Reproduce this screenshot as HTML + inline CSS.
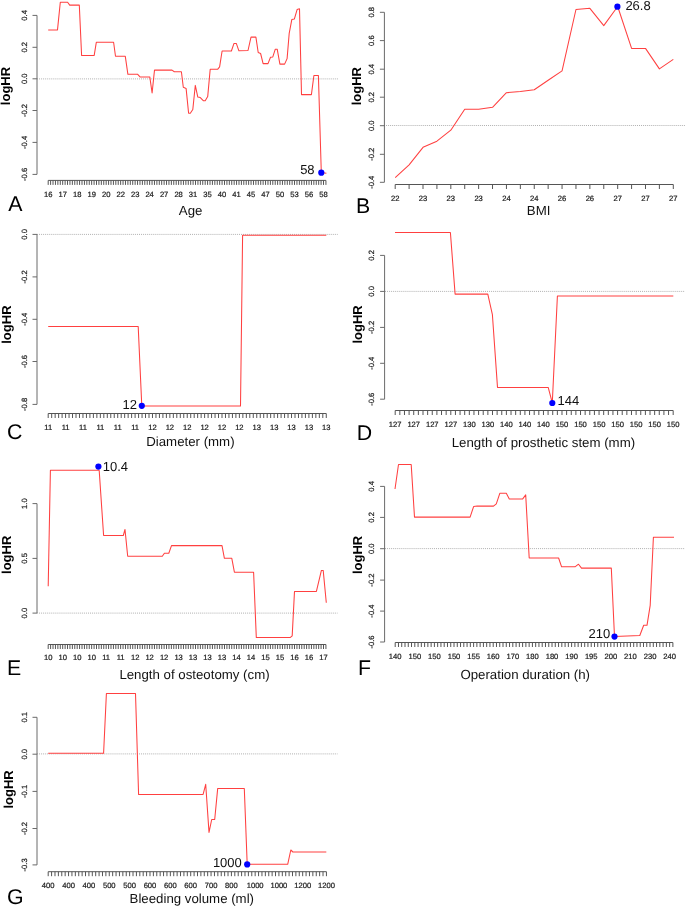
<!DOCTYPE html>
<html><head><meta charset="utf-8"><title>logHR plots</title><style>
html,body{margin:0;padding:0;background:#fff;}
body{width:685px;height:907px;overflow:hidden;}
svg{display:block;will-change:transform;}
text{font-family:"Liberation Sans",sans-serif;fill:#111;text-rendering:geometricPrecision;}
.tl{font-size:7.6px;fill:#222;stroke:#222;stroke-width:0.22;}
.tt{font-size:13.25px;fill:#111;}
.lg{font-size:13px;font-weight:bold;fill:#000;}
.lt{font-size:21.3px;fill:#000;}
.an{font-size:13px;fill:#111;}
.ax{stroke:#555;stroke-width:1;fill:none;}
.yax{stroke:#6a6a6a;stroke-width:1;fill:none;}
.zero{stroke:#b0b0b0;stroke-width:1;stroke-dasharray:1 1.04;}
.cv{stroke:#ff4040;stroke-width:1.05;fill:none;stroke-linejoin:round;}
</style></head>
<body><svg width="685" height="907" viewBox="0 0 685 907">
<rect width="685" height="907" fill="#fff"/>
<line x1="37" y1="78.9" x2="338" y2="78.9" class="zero"/>
<line x1="37" y1="15.4" x2="37" y2="174.4" class="yax"/>
<line x1="32.5" y1="15.4" x2="37" y2="15.4" class="yax"/>
<text class="tl" transform="translate(26.7,15.4) rotate(-90)" text-anchor="middle">0.4</text>
<line x1="32.5" y1="47.3" x2="37" y2="47.3" class="yax"/>
<text class="tl" transform="translate(26.7,47.3) rotate(-90)" text-anchor="middle">0.2</text>
<line x1="32.5" y1="78.8" x2="37" y2="78.8" class="yax"/>
<text class="tl" transform="translate(26.7,78.8) rotate(-90)" text-anchor="middle">0.0</text>
<line x1="32.5" y1="110.5" x2="37" y2="110.5" class="yax"/>
<text class="tl" transform="translate(26.7,110.5) rotate(-90)" text-anchor="middle">-0.2</text>
<line x1="32.5" y1="142.4" x2="37" y2="142.4" class="yax"/>
<text class="tl" transform="translate(26.7,142.4) rotate(-90)" text-anchor="middle">-0.4</text>
<line x1="32.5" y1="174.4" x2="37" y2="174.4" class="yax"/>
<text class="tl" transform="translate(26.7,174.4) rotate(-90)" text-anchor="middle">-0.6</text>
<path d="M48.2 180.4H325.93M48.2 180.4v4.5M50.62 180.4v4.5M53.03 180.4v4.5M55.45 180.4v4.5M57.86 180.4v4.5M60.28 180.4v4.5M62.69 180.4v4.5M65.11 180.4v4.5M67.52 180.4v4.5M69.94 180.4v4.5M72.35 180.4v4.5M74.77 180.4v4.5M77.18 180.4v4.5M79.59 180.4v4.5M82.01 180.4v4.5M84.43 180.4v4.5M86.84 180.4v4.5M89.25 180.4v4.5M91.67 180.4v4.5M94.09 180.4v4.5M96.5 180.4v4.5M98.92 180.4v4.5M101.33 180.4v4.5M103.75 180.4v4.5M106.16 180.4v4.5M108.58 180.4v4.5M110.99 180.4v4.5M113.41 180.4v4.5M115.82 180.4v4.5M118.23 180.4v4.5M120.65 180.4v4.5M123.06 180.4v4.5M125.48 180.4v4.5M127.9 180.4v4.5M130.31 180.4v4.5M132.73 180.4v4.5M135.14 180.4v4.5M137.56 180.4v4.5M139.97 180.4v4.5M142.38 180.4v4.5M144.8 180.4v4.5M147.22 180.4v4.5M149.63 180.4v4.5M152.05 180.4v4.5M154.46 180.4v4.5M156.88 180.4v4.5M159.29 180.4v4.5M161.7 180.4v4.5M164.12 180.4v4.5M166.54 180.4v4.5M168.95 180.4v4.5M171.37 180.4v4.5M173.78 180.4v4.5M176.19 180.4v4.5M178.61 180.4v4.5M181.02 180.4v4.5M183.44 180.4v4.5M185.86 180.4v4.5M188.27 180.4v4.5M190.69 180.4v4.5M193.1 180.4v4.5M195.51 180.4v4.5M197.93 180.4v4.5M200.35 180.4v4.5M202.76 180.4v4.5M205.18 180.4v4.5M207.59 180.4v4.5M210 180.4v4.5M212.42 180.4v4.5M214.83 180.4v4.5M217.25 180.4v4.5M219.67 180.4v4.5M222.08 180.4v4.5M224.5 180.4v4.5M226.91 180.4v4.5M229.32 180.4v4.5M231.74 180.4v4.5M234.16 180.4v4.5M236.57 180.4v4.5M238.99 180.4v4.5M241.4 180.4v4.5M243.81 180.4v4.5M246.23 180.4v4.5M248.64 180.4v4.5M251.06 180.4v4.5M253.48 180.4v4.5M255.89 180.4v4.5M258.31 180.4v4.5M260.72 180.4v4.5M263.13 180.4v4.5M265.55 180.4v4.5M267.97 180.4v4.5M270.38 180.4v4.5M272.8 180.4v4.5M275.21 180.4v4.5M277.62 180.4v4.5M280.04 180.4v4.5M282.45 180.4v4.5M284.87 180.4v4.5M287.29 180.4v4.5M289.7 180.4v4.5M292.12 180.4v4.5M294.53 180.4v4.5M296.94 180.4v4.5M299.36 180.4v4.5M301.78 180.4v4.5M304.19 180.4v4.5M306.61 180.4v4.5M309.02 180.4v4.5M311.44 180.4v4.5M313.85 180.4v4.5M316.26 180.4v4.5M318.68 180.4v4.5M321.09 180.4v4.5M323.51 180.4v4.5M325.93 180.4v4.5" class="ax"/>
<text class="tl" x="48.2" y="196.5" text-anchor="middle">16</text>
<text class="tl" x="62.69" y="196.5" text-anchor="middle">17</text>
<text class="tl" x="77.18" y="196.5" text-anchor="middle">18</text>
<text class="tl" x="91.67" y="196.5" text-anchor="middle">19</text>
<text class="tl" x="106.16" y="196.5" text-anchor="middle">20</text>
<text class="tl" x="120.65" y="196.5" text-anchor="middle">22</text>
<text class="tl" x="135.14" y="196.5" text-anchor="middle">23</text>
<text class="tl" x="149.63" y="196.5" text-anchor="middle">24</text>
<text class="tl" x="164.12" y="196.5" text-anchor="middle">27</text>
<text class="tl" x="178.61" y="196.5" text-anchor="middle">28</text>
<text class="tl" x="193.1" y="196.5" text-anchor="middle">31</text>
<text class="tl" x="207.59" y="196.5" text-anchor="middle">35</text>
<text class="tl" x="222.08" y="196.5" text-anchor="middle">40</text>
<text class="tl" x="236.57" y="196.5" text-anchor="middle">41</text>
<text class="tl" x="251.06" y="196.5" text-anchor="middle">45</text>
<text class="tl" x="265.55" y="196.5" text-anchor="middle">47</text>
<text class="tl" x="280.04" y="196.5" text-anchor="middle">50</text>
<text class="tl" x="294.53" y="196.5" text-anchor="middle">53</text>
<text class="tl" x="309.02" y="196.5" text-anchor="middle">56</text>
<text class="tl" x="323.51" y="196.5" text-anchor="middle">58</text>
<polyline points="48.2,29.9 57.5,29.9 60.3,2.3 67.6,2.3 69.7,5.1 79.3,5.1 81.6,55.4 94.2,55.4 96.3,42.3 113.6,42.3 115.5,56.3 125.3,56.3 127.9,74.3 137.7,74.3 140,76.9 149.8,76.9 152.1,93 154.5,70.1 172,70.1 174.3,71.7 181.4,71.7 183.3,87.3 186.1,88.4 188.6,113.2 190.3,113.2 192.8,109.5 195.3,85.4 197.8,97.1 200.3,97.6 203.5,100.8 205.2,100.8 207.7,96.6 210.2,69.3 217.6,69.3 219.6,66.8 222.1,51 231.4,51 234,43.4 236.3,43.4 238.9,50.8 248,50.5 251,37.1 255.9,37.1 258.2,52.5 260.6,53.5 263.1,63.6 268,63.6 270.5,57.2 272.8,56.9 275.3,49.2 277.2,49.2 279.9,64.1 284.6,64.1 287.1,58.6 289.2,33.3 291.8,19.6 294.4,18.9 297.1,9.6 299.5,8.8 301.5,94.6 311.4,94.6 313.9,75.5 318.4,75.5 321.3,172.4 326.4,173.2" class="cv"/>
<circle cx="321.3" cy="172.7" r="3.1" fill="#0000ff"/>
<text class="an" x="314.6" y="174.3" text-anchor="end">58</text>
<text class="lg" transform="translate(9.9,86) rotate(-90)" text-anchor="middle">logHR</text>
<text class="tt" x="190.6" y="214.6" text-anchor="middle">Age</text>
<text class="lt" x="8.2" y="211.3">A</text>
<line x1="384" y1="125.5" x2="685" y2="125.5" class="zero"/>
<line x1="384.4" y1="12.3" x2="384.4" y2="182.3" class="yax"/>
<line x1="379.9" y1="12.3" x2="384.4" y2="12.3" class="yax"/>
<text class="tl" transform="translate(374.1,12.3) rotate(-90)" text-anchor="middle">0.8</text>
<line x1="379.9" y1="40.6" x2="384.4" y2="40.6" class="yax"/>
<text class="tl" transform="translate(374.1,40.6) rotate(-90)" text-anchor="middle">0.6</text>
<line x1="379.9" y1="69.2" x2="384.4" y2="69.2" class="yax"/>
<text class="tl" transform="translate(374.1,69.2) rotate(-90)" text-anchor="middle">0.4</text>
<line x1="379.9" y1="97.2" x2="384.4" y2="97.2" class="yax"/>
<text class="tl" transform="translate(374.1,97.2) rotate(-90)" text-anchor="middle">0.2</text>
<line x1="379.9" y1="125.7" x2="384.4" y2="125.7" class="yax"/>
<text class="tl" transform="translate(374.1,125.7) rotate(-90)" text-anchor="middle">0.0</text>
<line x1="379.9" y1="154.3" x2="384.4" y2="154.3" class="yax"/>
<text class="tl" transform="translate(374.1,154.3) rotate(-90)" text-anchor="middle">-0.2</text>
<line x1="379.9" y1="182.3" x2="384.4" y2="182.3" class="yax"/>
<text class="tl" transform="translate(374.1,182.3) rotate(-90)" text-anchor="middle">-0.4</text>
<path d="M395.2 184.5H673.3M395.2 184.5v4.5M409.1 184.5v4.5M423.01 184.5v4.5M436.91 184.5v4.5M450.82 184.5v4.5M464.72 184.5v4.5M478.63 184.5v4.5M492.53 184.5v4.5M506.44 184.5v4.5M520.35 184.5v4.5M534.25 184.5v4.5M548.15 184.5v4.5M562.06 184.5v4.5M575.96 184.5v4.5M589.87 184.5v4.5M603.77 184.5v4.5M617.68 184.5v4.5M631.59 184.5v4.5M645.49 184.5v4.5M659.39 184.5v4.5M673.3 184.5v4.5" class="ax"/>
<text class="tl" x="395.2" y="200.8" text-anchor="middle">22</text>
<text class="tl" x="423.01" y="200.8" text-anchor="middle">23</text>
<text class="tl" x="450.82" y="200.8" text-anchor="middle">23</text>
<text class="tl" x="478.63" y="200.8" text-anchor="middle">23</text>
<text class="tl" x="506.44" y="200.8" text-anchor="middle">24</text>
<text class="tl" x="534.25" y="200.8" text-anchor="middle">24</text>
<text class="tl" x="562.06" y="200.8" text-anchor="middle">26</text>
<text class="tl" x="589.87" y="200.8" text-anchor="middle">26</text>
<text class="tl" x="617.68" y="200.8" text-anchor="middle">27</text>
<text class="tl" x="645.49" y="200.8" text-anchor="middle">27</text>
<text class="tl" x="673.3" y="200.8" text-anchor="middle">27</text>
<polyline points="395.2,177.6 409.1,164.8 423.01,147.3 436.91,141.2 450.82,130.2 464.72,109.3 478.63,109.3 492.53,107.3 506.44,92.7 520.35,91.5 534.25,89.7 548.15,80.2 562.06,70.9 575.96,9.5 589.87,8.3 603.77,25.6 617.68,6.5 631.59,48.4 645.49,48.4 659.39,68.9 673.3,59.4" class="cv"/>
<circle cx="617.4" cy="6.7" r="3.1" fill="#0000ff"/>
<text class="an" x="625.4" y="10.2" text-anchor="start">26.8</text>
<text class="lg" transform="translate(360.5,86.2) rotate(-90)" text-anchor="middle">logHR</text>
<text class="tt" x="538.6" y="214.8" text-anchor="middle">BMI</text>
<text class="lt" x="355.9" y="212.8">B</text>
<line x1="37" y1="234.4" x2="337.7" y2="234.4" class="zero"/>
<line x1="37" y1="234.4" x2="37" y2="404.4" class="yax"/>
<line x1="32.5" y1="234.4" x2="37" y2="234.4" class="yax"/>
<text class="tl" transform="translate(26.7,234.4) rotate(-90)" text-anchor="middle">0.0</text>
<line x1="32.5" y1="276.9" x2="37" y2="276.9" class="yax"/>
<text class="tl" transform="translate(26.7,276.9) rotate(-90)" text-anchor="middle">-0.2</text>
<line x1="32.5" y1="319.3" x2="37" y2="319.3" class="yax"/>
<text class="tl" transform="translate(26.7,319.3) rotate(-90)" text-anchor="middle">-0.4</text>
<line x1="32.5" y1="361.5" x2="37" y2="361.5" class="yax"/>
<text class="tl" transform="translate(26.7,361.5) rotate(-90)" text-anchor="middle">-0.6</text>
<line x1="32.5" y1="404.4" x2="37" y2="404.4" class="yax"/>
<text class="tl" transform="translate(26.7,404.4) rotate(-90)" text-anchor="middle">-0.8</text>
<path d="M48.2 413.5H326.28M48.2 413.5v4.5M51.68 413.5v4.5M55.15 413.5v4.5M58.63 413.5v4.5M62.1 413.5v4.5M65.58 413.5v4.5M69.06 413.5v4.5M72.53 413.5v4.5M76.01 413.5v4.5M79.48 413.5v4.5M82.96 413.5v4.5M86.44 413.5v4.5M89.91 413.5v4.5M93.39 413.5v4.5M96.86 413.5v4.5M100.34 413.5v4.5M103.82 413.5v4.5M107.29 413.5v4.5M110.77 413.5v4.5M114.24 413.5v4.5M117.72 413.5v4.5M121.2 413.5v4.5M124.67 413.5v4.5M128.15 413.5v4.5M131.62 413.5v4.5M135.1 413.5v4.5M138.58 413.5v4.5M142.05 413.5v4.5M145.53 413.5v4.5M149 413.5v4.5M152.48 413.5v4.5M155.96 413.5v4.5M159.43 413.5v4.5M162.91 413.5v4.5M166.38 413.5v4.5M169.86 413.5v4.5M173.34 413.5v4.5M176.81 413.5v4.5M180.29 413.5v4.5M183.76 413.5v4.5M187.24 413.5v4.5M190.72 413.5v4.5M194.19 413.5v4.5M197.67 413.5v4.5M201.14 413.5v4.5M204.62 413.5v4.5M208.1 413.5v4.5M211.57 413.5v4.5M215.05 413.5v4.5M218.52 413.5v4.5M222 413.5v4.5M225.48 413.5v4.5M228.95 413.5v4.5M232.43 413.5v4.5M235.9 413.5v4.5M239.38 413.5v4.5M242.86 413.5v4.5M246.33 413.5v4.5M249.81 413.5v4.5M253.28 413.5v4.5M256.76 413.5v4.5M260.24 413.5v4.5M263.71 413.5v4.5M267.19 413.5v4.5M270.66 413.5v4.5M274.14 413.5v4.5M277.62 413.5v4.5M281.09 413.5v4.5M284.57 413.5v4.5M288.04 413.5v4.5M291.52 413.5v4.5M295 413.5v4.5M298.47 413.5v4.5M301.95 413.5v4.5M305.42 413.5v4.5M308.9 413.5v4.5M312.38 413.5v4.5M315.85 413.5v4.5M319.33 413.5v4.5M322.8 413.5v4.5M326.28 413.5v4.5" class="ax"/>
<text class="tl" x="48.2" y="430.1" text-anchor="middle">11</text>
<text class="tl" x="65.58" y="430.1" text-anchor="middle">11</text>
<text class="tl" x="82.96" y="430.1" text-anchor="middle">11</text>
<text class="tl" x="100.34" y="430.1" text-anchor="middle">11</text>
<text class="tl" x="117.72" y="430.1" text-anchor="middle">11</text>
<text class="tl" x="135.1" y="430.1" text-anchor="middle">11</text>
<text class="tl" x="152.48" y="430.1" text-anchor="middle">12</text>
<text class="tl" x="169.86" y="430.1" text-anchor="middle">12</text>
<text class="tl" x="187.24" y="430.1" text-anchor="middle">12</text>
<text class="tl" x="204.62" y="430.1" text-anchor="middle">12</text>
<text class="tl" x="222" y="430.1" text-anchor="middle">12</text>
<text class="tl" x="239.38" y="430.1" text-anchor="middle">12</text>
<text class="tl" x="256.76" y="430.1" text-anchor="middle">13</text>
<text class="tl" x="274.14" y="430.1" text-anchor="middle">13</text>
<text class="tl" x="291.52" y="430.1" text-anchor="middle">13</text>
<text class="tl" x="308.9" y="430.1" text-anchor="middle">13</text>
<text class="tl" x="326.28" y="430.1" text-anchor="middle">13</text>
<polyline points="48.2,326.5 138.2,326.5 141.8,405.9 240.5,405.9 242.6,235.2 326.3,235.2" class="cv"/>
<circle cx="141.8" cy="405.8" r="3.1" fill="#0000ff"/>
<text class="an" x="136.9" y="408.6" text-anchor="end">12</text>
<text class="lg" transform="translate(11.2,324.6) rotate(-90)" text-anchor="middle">logHR</text>
<text class="tt" x="190.4" y="445.9" text-anchor="middle">Diameter (mm)</text>
<text class="lt" x="7" y="439">C</text>
<line x1="385" y1="291.4" x2="685" y2="291.4" class="zero"/>
<line x1="384.6" y1="255.4" x2="384.6" y2="399.2" class="yax"/>
<line x1="380.1" y1="255.4" x2="384.6" y2="255.4" class="yax"/>
<text class="tl" transform="translate(374.3,255.4) rotate(-90)" text-anchor="middle">0.2</text>
<line x1="380.1" y1="291.4" x2="384.6" y2="291.4" class="yax"/>
<text class="tl" transform="translate(374.3,291.4) rotate(-90)" text-anchor="middle">0.0</text>
<line x1="380.1" y1="327.4" x2="384.6" y2="327.4" class="yax"/>
<text class="tl" transform="translate(374.3,327.4) rotate(-90)" text-anchor="middle">-0.2</text>
<line x1="380.1" y1="363.3" x2="384.6" y2="363.3" class="yax"/>
<text class="tl" transform="translate(374.3,363.3) rotate(-90)" text-anchor="middle">-0.4</text>
<line x1="380.1" y1="399.2" x2="384.6" y2="399.2" class="yax"/>
<text class="tl" transform="translate(374.3,399.2) rotate(-90)" text-anchor="middle">-0.6</text>
<path d="M395.2 410.5H673.18M395.2 410.5v4.5M399.83 410.5v4.5M404.47 410.5v4.5M409.1 410.5v4.5M413.73 410.5v4.5M418.37 410.5v4.5M423 410.5v4.5M427.63 410.5v4.5M432.26 410.5v4.5M436.9 410.5v4.5M441.53 410.5v4.5M446.16 410.5v4.5M450.8 410.5v4.5M455.43 410.5v4.5M460.06 410.5v4.5M464.69 410.5v4.5M469.33 410.5v4.5M473.96 410.5v4.5M478.59 410.5v4.5M483.23 410.5v4.5M487.86 410.5v4.5M492.49 410.5v4.5M497.13 410.5v4.5M501.76 410.5v4.5M506.39 410.5v4.5M511.02 410.5v4.5M515.66 410.5v4.5M520.29 410.5v4.5M524.92 410.5v4.5M529.56 410.5v4.5M534.19 410.5v4.5M538.82 410.5v4.5M543.46 410.5v4.5M548.09 410.5v4.5M552.72 410.5v4.5M557.36 410.5v4.5M561.99 410.5v4.5M566.62 410.5v4.5M571.25 410.5v4.5M575.89 410.5v4.5M580.52 410.5v4.5M585.15 410.5v4.5M589.79 410.5v4.5M594.42 410.5v4.5M599.05 410.5v4.5M603.68 410.5v4.5M608.32 410.5v4.5M612.95 410.5v4.5M617.58 410.5v4.5M622.22 410.5v4.5M626.85 410.5v4.5M631.48 410.5v4.5M636.12 410.5v4.5M640.75 410.5v4.5M645.38 410.5v4.5M650.01 410.5v4.5M654.65 410.5v4.5M659.28 410.5v4.5M663.91 410.5v4.5M668.55 410.5v4.5M673.18 410.5v4.5" class="ax"/>
<text class="tl" x="395.2" y="426.6" text-anchor="middle">127</text>
<text class="tl" x="413.73" y="426.6" text-anchor="middle">127</text>
<text class="tl" x="432.26" y="426.6" text-anchor="middle">127</text>
<text class="tl" x="450.8" y="426.6" text-anchor="middle">127</text>
<text class="tl" x="469.33" y="426.6" text-anchor="middle">130</text>
<text class="tl" x="487.86" y="426.6" text-anchor="middle">130</text>
<text class="tl" x="506.39" y="426.6" text-anchor="middle">140</text>
<text class="tl" x="524.92" y="426.6" text-anchor="middle">140</text>
<text class="tl" x="543.46" y="426.6" text-anchor="middle">140</text>
<text class="tl" x="561.99" y="426.6" text-anchor="middle">150</text>
<text class="tl" x="580.52" y="426.6" text-anchor="middle">150</text>
<text class="tl" x="599.05" y="426.6" text-anchor="middle">150</text>
<text class="tl" x="617.58" y="426.6" text-anchor="middle">150</text>
<text class="tl" x="636.12" y="426.6" text-anchor="middle">150</text>
<text class="tl" x="654.65" y="426.6" text-anchor="middle">150</text>
<text class="tl" x="673.18" y="426.6" text-anchor="middle">150</text>
<polyline points="395,232.5 450.4,232.5 455.1,294.1 487.8,294.1 492.4,314.7 497.5,387.4 548.2,387.4 552.3,402.8 557.4,296 673.3,296" class="cv"/>
<circle cx="552.3" cy="403" r="3.1" fill="#0000ff"/>
<text class="an" x="557.6" y="404.5" text-anchor="start">144</text>
<text class="lg" transform="translate(361.9,324.4) rotate(-90)" text-anchor="middle">logHR</text>
<text class="tt" x="543.4" y="446.5" text-anchor="middle">Length of prosthetic stem (mm)</text>
<text class="lt" x="356.8" y="439.6">D</text>
<line x1="37" y1="613.1" x2="337.5" y2="613.1" class="zero"/>
<line x1="37" y1="503.6" x2="37" y2="613.1" class="yax"/>
<line x1="32.5" y1="503.6" x2="37" y2="503.6" class="yax"/>
<text class="tl" transform="translate(26.7,503.6) rotate(-90)" text-anchor="middle">1.0</text>
<line x1="32.5" y1="558.4" x2="37" y2="558.4" class="yax"/>
<text class="tl" transform="translate(26.7,558.4) rotate(-90)" text-anchor="middle">0.5</text>
<line x1="32.5" y1="613.1" x2="37" y2="613.1" class="yax"/>
<text class="tl" transform="translate(26.7,613.1) rotate(-90)" text-anchor="middle">0.0</text>
<path d="M48.2 644.5H325.93M48.2 644.5v4.5M50.62 644.5v4.5M53.03 644.5v4.5M55.45 644.5v4.5M57.86 644.5v4.5M60.28 644.5v4.5M62.69 644.5v4.5M65.11 644.5v4.5M67.52 644.5v4.5M69.94 644.5v4.5M72.35 644.5v4.5M74.77 644.5v4.5M77.18 644.5v4.5M79.59 644.5v4.5M82.01 644.5v4.5M84.43 644.5v4.5M86.84 644.5v4.5M89.25 644.5v4.5M91.67 644.5v4.5M94.09 644.5v4.5M96.5 644.5v4.5M98.92 644.5v4.5M101.33 644.5v4.5M103.75 644.5v4.5M106.16 644.5v4.5M108.58 644.5v4.5M110.99 644.5v4.5M113.41 644.5v4.5M115.82 644.5v4.5M118.23 644.5v4.5M120.65 644.5v4.5M123.06 644.5v4.5M125.48 644.5v4.5M127.9 644.5v4.5M130.31 644.5v4.5M132.73 644.5v4.5M135.14 644.5v4.5M137.56 644.5v4.5M139.97 644.5v4.5M142.38 644.5v4.5M144.8 644.5v4.5M147.22 644.5v4.5M149.63 644.5v4.5M152.05 644.5v4.5M154.46 644.5v4.5M156.88 644.5v4.5M159.29 644.5v4.5M161.7 644.5v4.5M164.12 644.5v4.5M166.54 644.5v4.5M168.95 644.5v4.5M171.37 644.5v4.5M173.78 644.5v4.5M176.19 644.5v4.5M178.61 644.5v4.5M181.02 644.5v4.5M183.44 644.5v4.5M185.86 644.5v4.5M188.27 644.5v4.5M190.69 644.5v4.5M193.1 644.5v4.5M195.51 644.5v4.5M197.93 644.5v4.5M200.35 644.5v4.5M202.76 644.5v4.5M205.18 644.5v4.5M207.59 644.5v4.5M210 644.5v4.5M212.42 644.5v4.5M214.83 644.5v4.5M217.25 644.5v4.5M219.67 644.5v4.5M222.08 644.5v4.5M224.5 644.5v4.5M226.91 644.5v4.5M229.32 644.5v4.5M231.74 644.5v4.5M234.16 644.5v4.5M236.57 644.5v4.5M238.99 644.5v4.5M241.4 644.5v4.5M243.81 644.5v4.5M246.23 644.5v4.5M248.64 644.5v4.5M251.06 644.5v4.5M253.48 644.5v4.5M255.89 644.5v4.5M258.31 644.5v4.5M260.72 644.5v4.5M263.13 644.5v4.5M265.55 644.5v4.5M267.97 644.5v4.5M270.38 644.5v4.5M272.8 644.5v4.5M275.21 644.5v4.5M277.62 644.5v4.5M280.04 644.5v4.5M282.45 644.5v4.5M284.87 644.5v4.5M287.29 644.5v4.5M289.7 644.5v4.5M292.12 644.5v4.5M294.53 644.5v4.5M296.94 644.5v4.5M299.36 644.5v4.5M301.78 644.5v4.5M304.19 644.5v4.5M306.61 644.5v4.5M309.02 644.5v4.5M311.44 644.5v4.5M313.85 644.5v4.5M316.26 644.5v4.5M318.68 644.5v4.5M321.09 644.5v4.5M323.51 644.5v4.5M325.93 644.5v4.5" class="ax"/>
<text class="tl" x="48.2" y="660.3" text-anchor="middle">10</text>
<text class="tl" x="62.69" y="660.3" text-anchor="middle">10</text>
<text class="tl" x="77.18" y="660.3" text-anchor="middle">10</text>
<text class="tl" x="91.67" y="660.3" text-anchor="middle">10</text>
<text class="tl" x="106.16" y="660.3" text-anchor="middle">11</text>
<text class="tl" x="120.65" y="660.3" text-anchor="middle">11</text>
<text class="tl" x="135.14" y="660.3" text-anchor="middle">12</text>
<text class="tl" x="149.63" y="660.3" text-anchor="middle">12</text>
<text class="tl" x="164.12" y="660.3" text-anchor="middle">12</text>
<text class="tl" x="178.61" y="660.3" text-anchor="middle">13</text>
<text class="tl" x="193.1" y="660.3" text-anchor="middle">13</text>
<text class="tl" x="207.59" y="660.3" text-anchor="middle">13</text>
<text class="tl" x="222.08" y="660.3" text-anchor="middle">13</text>
<text class="tl" x="236.57" y="660.3" text-anchor="middle">14</text>
<text class="tl" x="251.06" y="660.3" text-anchor="middle">14</text>
<text class="tl" x="265.55" y="660.3" text-anchor="middle">15</text>
<text class="tl" x="280.04" y="660.3" text-anchor="middle">15</text>
<text class="tl" x="294.53" y="660.3" text-anchor="middle">16</text>
<text class="tl" x="309.02" y="660.3" text-anchor="middle">16</text>
<text class="tl" x="323.51" y="660.3" text-anchor="middle">17</text>
<polyline points="48.2,586.3 50.4,470.3 98.3,470.3 99.2,470.5 103.6,535.5 123.3,535.5 125,529.5 127.7,556.3 162.3,556.3 164.4,553.2 168.8,553.2 171.5,545.6 222,545.6 224.4,558.3 231.8,558.3 234.4,572.2 253.6,572.2 256.3,637.4 290.4,637.4 292.2,635.9 294.5,591.4 316.4,591.4 321.4,570.4 323.2,570.4 326.3,602.7" class="cv"/>
<circle cx="98.4" cy="466.6" r="3.1" fill="#0000ff"/>
<text class="an" x="102.8" y="471.3" text-anchor="start">10.4</text>
<text class="lg" transform="translate(10.8,554.8) rotate(-90)" text-anchor="middle">logHR</text>
<text class="tt" x="194.5" y="678.5" text-anchor="middle">Length of osteotomy (cm)</text>
<text class="lt" x="7" y="674.5">E</text>
<line x1="385" y1="548.6" x2="685" y2="548.6" class="zero"/>
<line x1="384.6" y1="486.4" x2="384.6" y2="642" class="yax"/>
<line x1="380.1" y1="486.4" x2="384.6" y2="486.4" class="yax"/>
<text class="tl" transform="translate(374.3,486.4) rotate(-90)" text-anchor="middle">0.4</text>
<line x1="380.1" y1="517.4" x2="384.6" y2="517.4" class="yax"/>
<text class="tl" transform="translate(374.3,517.4) rotate(-90)" text-anchor="middle">0.2</text>
<line x1="380.1" y1="548.7" x2="384.6" y2="548.7" class="yax"/>
<text class="tl" transform="translate(374.3,548.7) rotate(-90)" text-anchor="middle">0.0</text>
<line x1="380.1" y1="580.1" x2="384.6" y2="580.1" class="yax"/>
<text class="tl" transform="translate(374.3,580.1) rotate(-90)" text-anchor="middle">-0.2</text>
<line x1="380.1" y1="611.1" x2="384.6" y2="611.1" class="yax"/>
<text class="tl" transform="translate(374.3,611.1) rotate(-90)" text-anchor="middle">-0.4</text>
<line x1="380.1" y1="642" x2="384.6" y2="642" class="yax"/>
<text class="tl" transform="translate(374.3,642) rotate(-90)" text-anchor="middle">-0.6</text>
<path d="M395.2 642.5H672.89M395.2 642.5v4.5M398.47 642.5v4.5M401.73 642.5v4.5M405 642.5v4.5M408.27 642.5v4.5M411.53 642.5v4.5M414.8 642.5v4.5M418.07 642.5v4.5M421.34 642.5v4.5M424.6 642.5v4.5M427.87 642.5v4.5M431.14 642.5v4.5M434.4 642.5v4.5M437.67 642.5v4.5M440.94 642.5v4.5M444.2 642.5v4.5M447.47 642.5v4.5M450.74 642.5v4.5M454.01 642.5v4.5M457.27 642.5v4.5M460.54 642.5v4.5M463.81 642.5v4.5M467.07 642.5v4.5M470.34 642.5v4.5M473.61 642.5v4.5M476.88 642.5v4.5M480.14 642.5v4.5M483.41 642.5v4.5M486.68 642.5v4.5M489.94 642.5v4.5M493.21 642.5v4.5M496.48 642.5v4.5M499.74 642.5v4.5M503.01 642.5v4.5M506.28 642.5v4.5M509.54 642.5v4.5M512.81 642.5v4.5M516.08 642.5v4.5M519.35 642.5v4.5M522.61 642.5v4.5M525.88 642.5v4.5M529.15 642.5v4.5M532.41 642.5v4.5M535.68 642.5v4.5M538.95 642.5v4.5M542.21 642.5v4.5M545.48 642.5v4.5M548.75 642.5v4.5M552.02 642.5v4.5M555.28 642.5v4.5M558.55 642.5v4.5M561.82 642.5v4.5M565.08 642.5v4.5M568.35 642.5v4.5M571.62 642.5v4.5M574.88 642.5v4.5M578.15 642.5v4.5M581.42 642.5v4.5M584.69 642.5v4.5M587.95 642.5v4.5M591.22 642.5v4.5M594.49 642.5v4.5M597.75 642.5v4.5M601.02 642.5v4.5M604.29 642.5v4.5M607.55 642.5v4.5M610.82 642.5v4.5M614.09 642.5v4.5M617.36 642.5v4.5M620.62 642.5v4.5M623.89 642.5v4.5M627.16 642.5v4.5M630.42 642.5v4.5M633.69 642.5v4.5M636.96 642.5v4.5M640.23 642.5v4.5M643.49 642.5v4.5M646.76 642.5v4.5M650.03 642.5v4.5M653.29 642.5v4.5M656.56 642.5v4.5M659.83 642.5v4.5M663.09 642.5v4.5M666.36 642.5v4.5M669.63 642.5v4.5M672.89 642.5v4.5" class="ax"/>
<text class="tl" x="395.2" y="658.8" text-anchor="middle">140</text>
<text class="tl" x="414.8" y="658.8" text-anchor="middle">150</text>
<text class="tl" x="434.4" y="658.8" text-anchor="middle">150</text>
<text class="tl" x="454.01" y="658.8" text-anchor="middle">150</text>
<text class="tl" x="473.61" y="658.8" text-anchor="middle">155</text>
<text class="tl" x="493.21" y="658.8" text-anchor="middle">160</text>
<text class="tl" x="512.81" y="658.8" text-anchor="middle">170</text>
<text class="tl" x="532.41" y="658.8" text-anchor="middle">180</text>
<text class="tl" x="552.02" y="658.8" text-anchor="middle">180</text>
<text class="tl" x="571.62" y="658.8" text-anchor="middle">190</text>
<text class="tl" x="591.22" y="658.8" text-anchor="middle">195</text>
<text class="tl" x="610.82" y="658.8" text-anchor="middle">200</text>
<text class="tl" x="630.42" y="658.8" text-anchor="middle">210</text>
<text class="tl" x="650.03" y="658.8" text-anchor="middle">230</text>
<text class="tl" x="669.63" y="658.8" text-anchor="middle">240</text>
<polyline points="395,489 398.5,464.5 411.2,464.5 414.5,517.1 470.1,517.1 473.6,506.6 477.1,506.1 493.5,506.1 496.3,503.8 499.8,493.3 506.3,493.3 509.3,498.9 522.7,498.9 525.7,494.9 529.2,558 558.6,558 561.6,566.8 575,566.8 578.5,564.2 581.5,568.1 611.3,568.1 614.5,636.4 639.8,635.5 643.7,625.3 647,625.3 650.2,605.3 653.4,537.2 674,537.2" class="cv"/>
<circle cx="614.5" cy="636.6" r="3.1" fill="#0000ff"/>
<text class="an" x="610.2" y="638.2" text-anchor="end">210</text>
<text class="lg" transform="translate(361.9,554.9) rotate(-90)" text-anchor="middle">logHR</text>
<text class="tt" x="525.2" y="678.6" text-anchor="middle">Operation duration (h)</text>
<text class="lt" x="357.9" y="674.5">F</text>
<line x1="37" y1="753.9" x2="337.5" y2="753.9" class="zero"/>
<line x1="37" y1="717.3" x2="37" y2="864.9" class="yax"/>
<line x1="32.5" y1="717.3" x2="37" y2="717.3" class="yax"/>
<text class="tl" transform="translate(26.7,717.3) rotate(-90)" text-anchor="middle">0.1</text>
<line x1="32.5" y1="754.2" x2="37" y2="754.2" class="yax"/>
<text class="tl" transform="translate(26.7,754.2) rotate(-90)" text-anchor="middle">0.0</text>
<line x1="32.5" y1="791.4" x2="37" y2="791.4" class="yax"/>
<text class="tl" transform="translate(26.7,791.4) rotate(-90)" text-anchor="middle">-0.1</text>
<line x1="32.5" y1="828.5" x2="37" y2="828.5" class="yax"/>
<text class="tl" transform="translate(26.7,828.5) rotate(-90)" text-anchor="middle">-0.2</text>
<line x1="32.5" y1="864.9" x2="37" y2="864.9" class="yax"/>
<text class="tl" transform="translate(26.7,864.9) rotate(-90)" text-anchor="middle">-0.3</text>
<path d="M48.2 871.7H326.43M48.2 871.7v4.5M51.59 871.7v4.5M54.99 871.7v4.5M58.38 871.7v4.5M61.77 871.7v4.5M65.17 871.7v4.5M68.56 871.7v4.5M71.95 871.7v4.5M75.34 871.7v4.5M78.74 871.7v4.5M82.13 871.7v4.5M85.52 871.7v4.5M88.92 871.7v4.5M92.31 871.7v4.5M95.7 871.7v4.5M99.09 871.7v4.5M102.49 871.7v4.5M105.88 871.7v4.5M109.27 871.7v4.5M112.67 871.7v4.5M116.06 871.7v4.5M119.45 871.7v4.5M122.85 871.7v4.5M126.24 871.7v4.5M129.63 871.7v4.5M133.02 871.7v4.5M136.42 871.7v4.5M139.81 871.7v4.5M143.2 871.7v4.5M146.6 871.7v4.5M149.99 871.7v4.5M153.38 871.7v4.5M156.78 871.7v4.5M160.17 871.7v4.5M163.56 871.7v4.5M166.95 871.7v4.5M170.35 871.7v4.5M173.74 871.7v4.5M177.13 871.7v4.5M180.53 871.7v4.5M183.92 871.7v4.5M187.31 871.7v4.5M190.71 871.7v4.5M194.1 871.7v4.5M197.49 871.7v4.5M200.88 871.7v4.5M204.28 871.7v4.5M207.67 871.7v4.5M211.06 871.7v4.5M214.46 871.7v4.5M217.85 871.7v4.5M221.24 871.7v4.5M224.64 871.7v4.5M228.03 871.7v4.5M231.42 871.7v4.5M234.81 871.7v4.5M238.21 871.7v4.5M241.6 871.7v4.5M244.99 871.7v4.5M248.39 871.7v4.5M251.78 871.7v4.5M255.17 871.7v4.5M258.57 871.7v4.5M261.96 871.7v4.5M265.35 871.7v4.5M268.75 871.7v4.5M272.14 871.7v4.5M275.53 871.7v4.5M278.92 871.7v4.5M282.32 871.7v4.5M285.71 871.7v4.5M289.1 871.7v4.5M292.5 871.7v4.5M295.89 871.7v4.5M299.28 871.7v4.5M302.68 871.7v4.5M306.07 871.7v4.5M309.46 871.7v4.5M312.85 871.7v4.5M316.25 871.7v4.5M319.64 871.7v4.5M323.03 871.7v4.5M326.43 871.7v4.5" class="ax"/>
<text class="tl" x="48.2" y="887.7" text-anchor="middle">400</text>
<text class="tl" x="68.56" y="887.7" text-anchor="middle">400</text>
<text class="tl" x="88.92" y="887.7" text-anchor="middle">400</text>
<text class="tl" x="109.27" y="887.7" text-anchor="middle">500</text>
<text class="tl" x="129.63" y="887.7" text-anchor="middle">500</text>
<text class="tl" x="149.99" y="887.7" text-anchor="middle">600</text>
<text class="tl" x="170.35" y="887.7" text-anchor="middle">600</text>
<text class="tl" x="190.71" y="887.7" text-anchor="middle">600</text>
<text class="tl" x="211.06" y="887.7" text-anchor="middle">700</text>
<text class="tl" x="231.42" y="887.7" text-anchor="middle">800</text>
<text class="tl" x="255.17" y="887.7" text-anchor="middle">1000</text>
<text class="tl" x="278.92" y="887.7" text-anchor="middle">1000</text>
<text class="tl" x="302.68" y="887.7" text-anchor="middle">1200</text>
<text class="tl" x="326.43" y="887.7" text-anchor="middle">1200</text>
<polyline points="48.2,753.3 103.6,753.3 106.4,693.5 135.5,693.5 138.6,794.4 203.1,794.4 205.7,784.3 209,832.4 211.7,819.5 214.7,819.5 217.7,788.4 244.3,788.4 247.2,864.3 287.7,864.3 290.8,850 292.9,852 326.3,852" class="cv"/>
<circle cx="247.2" cy="864.4" r="3.1" fill="#0000ff"/>
<text class="an" x="241.8" y="866.6" text-anchor="end">1000</text>
<text class="lg" transform="translate(12.7,789.4) rotate(-90)" text-anchor="middle">logHR</text>
<text class="tt" x="191.8" y="903" text-anchor="middle">Bleeding volume (ml)</text>
<text class="lt" x="7" y="904.2">G</text>
</svg></body></html>
